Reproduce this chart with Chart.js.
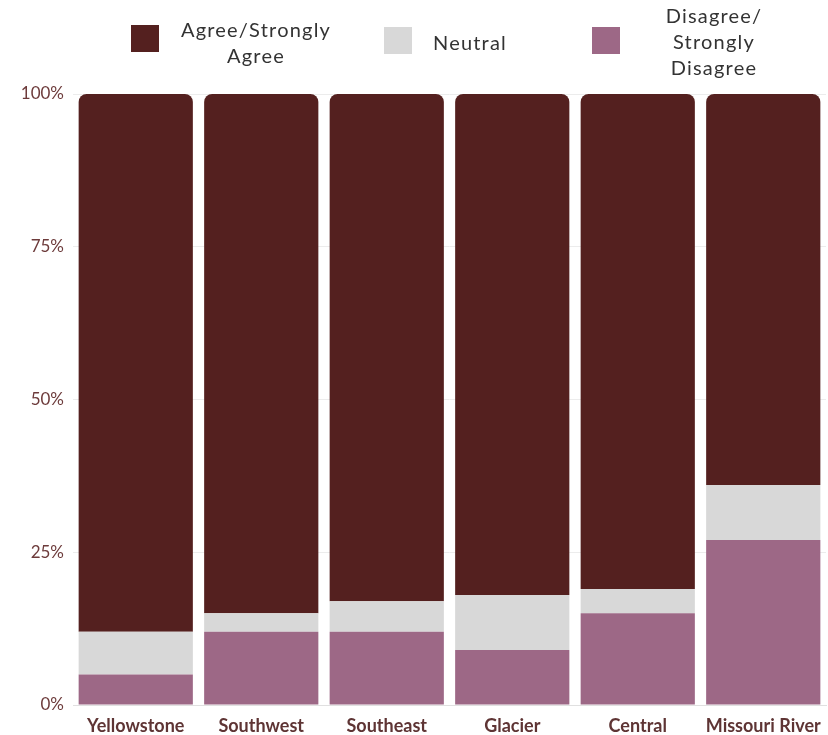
<!DOCTYPE html>
<html>
<head>
<meta charset="utf-8">
<script src="https://cdn.jsdelivr.net/npm/chart.js"></script>
<style>
  body { margin: 0; background: #fff; font-family: Lato, sans-serif; }
  #wrap { position: relative; width: 828px; height: 735px; }
  #chart { position: absolute; left: 0; top: 0; }
  .lg { position: absolute; color: #333; font-size: 20px; letter-spacing: 1.2px; line-height: 26px; text-align: center; }
  .sw { position: absolute; width: 28px; height: 27px; }
</style>
</head>
<body>
<div id="wrap">
  <canvas id="chart" width="828" height="735"></canvas>
  <div class="sw" style="left:131px;top:25px;background:#54201f"></div>
  <div class="lg" style="left:166px;top:16px;width:180px">Agree/Strongly<br>Agree</div>
  <div class="sw" style="left:384px;top:27px;background:#d8d8d8"></div>
  <div class="lg" style="left:420px;top:29px;width:100px">Neutral</div>
  <div class="sw" style="left:592px;top:27px;background:#9d6886"></div>
  <div class="lg" style="left:649px;top:2px;width:130px">Disagree/<br>Strongly<br>Disagree</div>
</div>
<script>
const regions = ['Yellowstone', 'Southwest', 'Southeast', 'Glacier', 'Central', 'Missouri River'];
const disagree = [5, 12, 12, 9, 15, 27];
const neutral = [7, 3, 5, 9, 4, 9];
const agree = [88, 85, 83, 82, 81, 64];

const ctx = document.getElementById('chart').getContext('2d');
new Chart(ctx, {
  type: 'bar',
  data: {
    labels: regions,
    datasets: [
      { label: 'Disagree/Strongly Disagree', data: disagree, backgroundColor: '#9d6886' },
      { label: 'Neutral', data: neutral, backgroundColor: '#d8d8d8' },
      {
        label: 'Agree/Strongly Agree', data: agree, backgroundColor: '#54201f',
        borderRadius: { topLeft: 8, topRight: 8 }, borderSkipped: 'bottom'
      }
    ]
  },
  options: {
    responsive: false,
    animation: false,
    layout: { padding: { top: 94, right: 2, bottom: 0, left: 0 } },
    datasets: { bar: { barPercentage: 0.91, categoryPercentage: 1 } },
    scales: {
      x: {
        stacked: true,
        afterFit: (axis) => { axis.height = 30; },
        grid: { display: false },
        border: { color: '#e0e0e0' },
        ticks: { color: '#5e3434', font: { family: 'Lato', size: 18, weight: 'bold' }, padding: 2 }
      },
      y: {
        stacked: true,
        min: 0,
        max: 100,
        afterFit: (axis) => { axis.width = 73; },
        grid: { color: '#ececec', drawTicks: false },
        border: { display: false },
        ticks: {
          stepSize: 25,
          color: '#6d3b3b',
          padding: 9,
          font: { family: 'Lato', size: 17 },
          callback: (v) => v + '%'
        }
      }
    },
    plugins: {
      legend: { display: false },
      tooltip: { enabled: false }
    }
  }
});
</script>
</body>
</html>
